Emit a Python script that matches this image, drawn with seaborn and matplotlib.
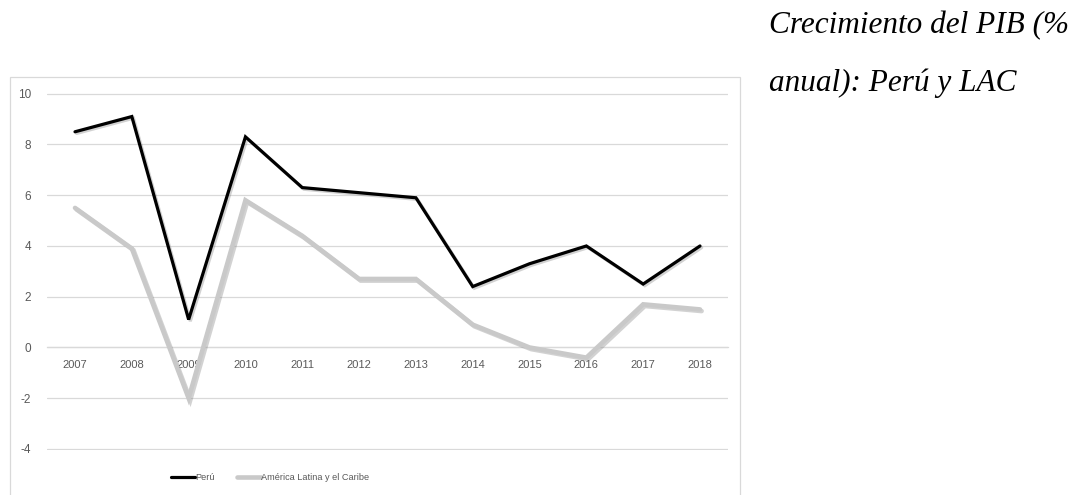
import matplotlib
matplotlib.use("Agg")
import matplotlib.pyplot as plt
import matplotlib.patheffects as pe
from matplotlib.patches import Rectangle
from matplotlib.lines import Line2D
import seaborn as sns
import pandas as pd

# Annual GDP growth (%), 2007-2018
years = ["2007", "2008", "2009", "2010", "2011", "2012",
         "2013", "2014", "2015", "2016", "2017", "2018"]
peru = [8.5, 9.1, 1.1, 8.3, 6.3, 6.1, 5.9, 2.4, 3.3, 4.0, 2.5, 4.0]
lac = [5.5, 3.9, -2.0, 5.8, 4.4, 2.7, 2.7, 0.9, 0.0, -0.4, 1.7, 1.5]
series_names = ["Perú", "América Latina y el Caribe"]
y_ticks = [-4, -2, 0, 2, 4, 6, 8, 10]
title_lines = ["Crecimiento del PIB (%", "anual): Perú y LAC"]

df = pd.DataFrame({
    "year": years * 2,
    "growth": peru + lac,
    "series": [series_names[0]] * len(years) + [series_names[1]] * len(years),
})

sns.set_theme(style="white")
plt.rcParams["font.family"] = ["Liberation Sans", "DejaVu Sans"]

fig = plt.figure(figsize=(10.82, 4.95), dpi=100)
fig.patch.set_facecolor("white")

# chart frame
fig.patches.append(Rectangle((10 / 1082, -0.01), 730 / 1082, 1 - 77 / 495 + 0.01,
                             transform=fig.transFigure, fill=False,
                             edgecolor="#d9d9d9", linewidth=0.9))

ax = fig.add_axes([46.6 / 1082, 1 - 450 / 495, 681.8 / 1082, (450 - 92.7) / 495])

palette = {series_names[0]: "#000000", series_names[1]: "#c9c9c9"}
sns.lineplot(data=df, x="year", y="growth", hue="series", palette=palette,
             sort=False, ax=ax, legend=False)

shadow = [pe.SimpleLineShadow(offset=(1.2, -1.2), shadow_color="#808080", alpha=0.35),
          pe.Normal()]
widths = [2.3, 3.3]
for line, w in zip(ax.get_lines(), widths):
    line.set_linewidth(w)
    line.set_solid_joinstyle("miter")
    line.set_path_effects(shadow)
    line.set_zorder(3)

ax.set_xlim(-0.5, len(years) - 0.5)
ax.set_ylim(-4.04, 10.04)
ax.set_yticks(y_ticks)
ax.set_yticklabels([str(v) for v in y_ticks])
ax.yaxis.grid(True, color="#d9d9d9", linewidth=0.9)
ax.set_axisbelow(True)
ax.set_xlabel("")
ax.set_ylabel("")

for s in ["top", "right", "left"]:
    ax.spines[s].set_visible(False)
ax.spines["bottom"].set_position(("data", 0))
ax.spines["bottom"].set_color("#d9d9d9")
ax.spines["bottom"].set_linewidth(0.9)

ax.tick_params(axis="x", length=0, pad=9, labelsize=8, labelcolor="#595959")
ax.tick_params(axis="y", length=0, pad=11, labelsize=8.5, labelcolor="#595959")

# legend below the plot
handles = [Line2D([0], [0], color=palette[n], linewidth=w) for n, w in zip(series_names, widths)]
fig.legend(handles, series_names, loc="center", bbox_to_anchor=(270 / 1082, 1 - 478 / 495),
           ncol=2, frameon=False, fontsize=6.6, handlelength=2.6, handletextpad=0.0,
           columnspacing=2.4, labelcolor="#595959")

# side caption
for i, t in enumerate(title_lines):
    fig.text(769 / 1082, 1 - (26 + 57 * i) / 495, t, family="Liberation Serif",
             style="italic", fontsize=22.5, ha="left", va="center", color="black")

fig.savefig("out.png", dpi=100, facecolor="white")
